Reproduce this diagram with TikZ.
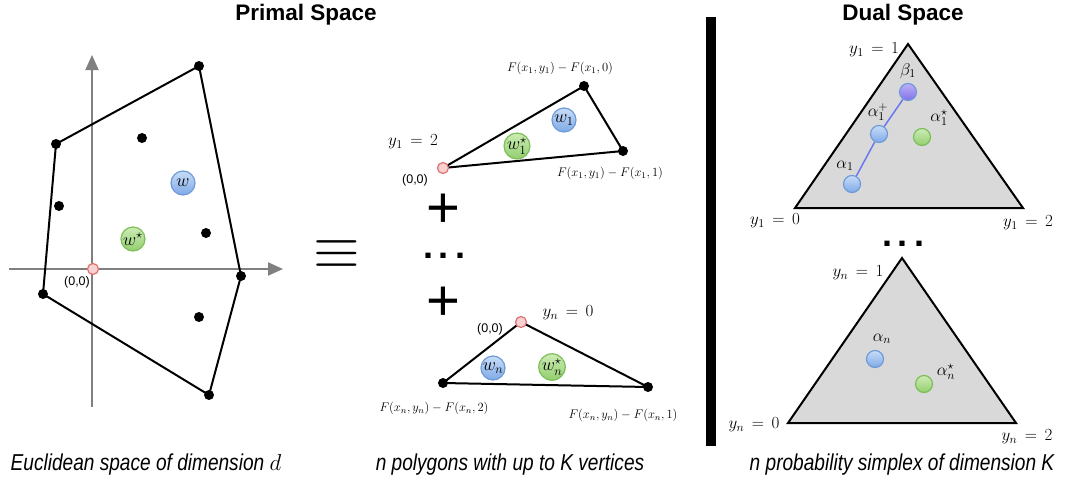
\RequirePackage{fix-cm}
\documentclass[tikz,border=0pt]{standalone}
\usepackage{fontspec}
\setsansfont{Liberation Sans}
\newfontfamily\capfont[FakeStretch=0.83]{Liberation Sans}
\usetikzlibrary{arrows.meta}

\newcommand{\mfs}[1]{\fontsize{#1}{#1}\selectfont}

\definecolor{axisG}{HTML}{808080}
\definecolor{blueD}{HTML}{6E9BD8}
\definecolor{blueT}{HTML}{C8DDF8}
\definecolor{blueB}{HTML}{7FA9E6}
\definecolor{greenD}{HTML}{7DBE5A}
\definecolor{greenT}{HTML}{CDEBB5}
\definecolor{greenB}{HTML}{92CF6E}
\definecolor{purpT}{HTML}{BDB0F7}
\definecolor{purpB}{HTML}{8070E8}
\definecolor{origD}{HTML}{E07070}
\definecolor{origF}{HTML}{F8D2D2}
\definecolor{segB}{HTML}{6A78F0}
\definecolor{simplex}{HTML}{D9D9D9}

\begin{document}
\begin{tikzpicture}[x=1pt, y=-1pt, line width=2pt,
  vtx/.style={circle, fill=black, inner sep=0pt, minimum size=10pt},
  orig/.style={circle, draw=origD, fill=origF, line width=1.2pt, inner sep=0pt, minimum size=11pt},
  ball/.style={circle, line width=1.2pt, inner sep=0pt, font=\mfs{18}},
  wblue/.style={ball, draw=blueD, top color=blueT, bottom color=blueB, minimum size=24pt},
  wgreen/.style={ball, draw=greenD, top color=greenT, bottom color=greenB, minimum size=24pt},
  ablue/.style={ball, draw=blueD, top color=blueT, bottom color=blueB, minimum size=17pt},
  agreen/.style={ball, draw=greenD, top color=greenT, bottom color=greenB, minimum size=17pt},
  bpurple/.style={ball, draw=blueD, top color=purpT, bottom color=purpB, minimum size=17pt},
  axis/.style={draw=axisG, -{Triangle[length=15pt, width=13pt]}},
  lbl/.style={font=\mfs{17}},
  flbl/.style={font=\mfs{12.5}},
  zlbl/.style={font=\sffamily\mfs{12.5}},
  sign/.style={font=\sffamily\mfs{58}, inner sep=0pt},
  dots/.style={font=\sffamily\bfseries\mfs{36}, inner sep=0pt},
  title/.style={font=\sffamily\bfseries\mfs{22.5}},
  caption/.style={font=\capfont\itshape\mfs{23}}]
  \useasboundingbox (0,0) rectangle (1066,477);

  % titles and captions
  \node[title] (primal) at (306,15) {Primal Space};
  \node[title] (dual) at (903,15) {Dual Space};
  \node[caption] (cap1) at (146,465) {Euclidean space of dimension $d$};
  \node[caption] (cap2) at (510,465) {n polygons with up to K vertices};
  \node[caption] (cap3) at (902,465) {n probability simplex of dimension K};

  % primal space
  \coordinate (xs) at (9,269);
  \coordinate (xe) at (283,269);
  \coordinate (ys) at (92,407);
  \coordinate (ye) at (92,55);
  \draw[axis] (xs) -- (xe);
  \draw[axis] (ys) -- (ye);
  \coordinate (p1) at (56,144);
  \coordinate (p2) at (199,66);
  \coordinate (p3) at (241,276);
  \coordinate (p4) at (209,395);
  \coordinate (p5) at (43,294);
  \draw (p1) -- (p2) -- (p3) -- (p4) -- (p5) -- cycle;
  \foreach \p in {p1,p2,p3,p4,p5}
    \node[vtx] (d\p) at (\p) {};
  \foreach \pos [count=\i] in {(142,138),(59,206),(206,233),(199,317)}
    \node[vtx] (q\i) at \pos {};
  \node[orig] (o0) at (93,269) {};
  \node[zlbl] (o0lab) at (77,282) {(0,0)};
  \node[wblue] (w) at (183,183) {$w$};
  \node[wgreen] (wstar) at (133,239) {$w^\star$};

  % equivalence
  \node[font=\mfs{60}, inner sep=0pt] (equiv) at (337,255) {$\equiv$};

  % polygons
  \coordinate (a1) at (443,168);
  \coordinate (b1) at (584,86);
  \coordinate (c1) at (623,151);
  \draw (a1) -- (b1) -- (c1) -- cycle;
  \node[vtx] (db1) at (b1) {};
  \node[vtx] (dc1) at (c1) {};
  \node[orig] (o1) at (a1) {};
  \node[wblue] (w1) at (564,120) {$w_1$};
  \node[wgreen] (w1star) at (517,146) {$w_1^\star$};
  \node[lbl] (y1two) at (413,142) {$y_1\,=\,2$};
  \node[zlbl] (o1lab) at (415,180) {(0,0)};
  \node[flbl] (f10) at (560,68) {$F\big(x_1,y_1\big)-F\big(x_1,0\big)$};
  \node[flbl] (f11) at (610,173) {$F\big(x_1,y_1\big)-F\big(x_1,1\big)$};

  \node[sign] (plus1) at (443,211) {+};
  \node[dots] (dots1) at (444,256) {.\hspace{6pt}.\hspace{6pt}.};
  \node[sign] (plus2) at (443,304) {+};

  \coordinate (an) at (521,322);
  \coordinate (bn) at (443,383);
  \coordinate (cn) at (648,387);
  \draw (an) -- (bn) -- (cn) -- cycle;
  \node[vtx] (dbn) at (bn) {};
  \node[vtx] (dcn) at (cn) {};
  \node[orig] (on) at (an) {};
  \node[wblue] (wn) at (493,368) {$w_n$};
  \node[wgreen] (wnstar) at (552,367) {$w_n^\star$};
  \node[zlbl] (onlab) at (490,329) {(0,0)};
  \node[lbl] (ynzero) at (568,313) {$y_n\,=\,0$};
  \node[flbl] (fn2) at (434,408) {$F(x_n,y_n)-F(x_n,2)$};
  \node[flbl] (fn1) at (623,415) {$F(x_n,y_n)-F(x_n,1)$};

  % divider
  \coordinate (bar1) at (711,17);
  \coordinate (bar2) at (711,446);
  \draw[line width=10pt] (bar1) -- (bar2);

  % dual space
  \coordinate (s1) at (908,44);
  \coordinate (s2) at (795,208);
  \coordinate (s3) at (1023,208);
  \filldraw[fill=simplex] (s1) -- (s2) -- (s3) -- cycle;
  \node[ablue] (alpha1) at (852,184) {};
  \node[ablue] (alpha1p) at (879,134) {};
  \node[bpurple] (beta1) at (908,92) {};
  \node[agreen] (alpha1s) at (922,137) {};
  \draw[segB, line width=1.5pt] (alpha1) -- (alpha1p) -- (beta1);
  \node[lbl] (lbeta1) at (908,71) {$\beta_1$};
  \node[lbl] (lalpha1p) at (878,112) {$\alpha_1^+$};
  \node[lbl] (lalpha1s) at (939,118) {$\alpha_1^\star$};
  \node[lbl] (lalpha1) at (845,166) {$\alpha_1$};
  \node[lbl] (y1one) at (874,50) {$y_1\,=\,1$};
  \node[lbl] (y1zero) at (775,221) {$y_1\,=\,0$};
  \node[lbl] (y1twob) at (1028,223) {$y_1\,=\,2$};

  \node[dots] (dots2) at (903,244) {.\hspace{6pt}.\hspace{6pt}.};

  \coordinate (t1) at (902,258);
  \coordinate (t2) at (788,423);
  \coordinate (t3) at (1016,423);
  \filldraw[fill=simplex] (t1) -- (t2) -- (t3) -- cycle;
  \node[ablue] (alphan) at (875,359) {};
  \node[agreen] (alphans) at (924,384) {};
  \node[lbl] (lalphan) at (882,339) {$\alpha_n$};
  \node[lbl] (lalphans) at (946,372) {$\alpha_n^\star$};
  \node[lbl] (ynone) at (858,273) {$y_n\,=\,1$};
  \node[lbl] (ynzerob) at (754,425) {$y_n\,=\,0$};
  \node[lbl] (yntwo) at (1027,437) {$y_n\,=\,2$};
\end{tikzpicture}
\end{document}
